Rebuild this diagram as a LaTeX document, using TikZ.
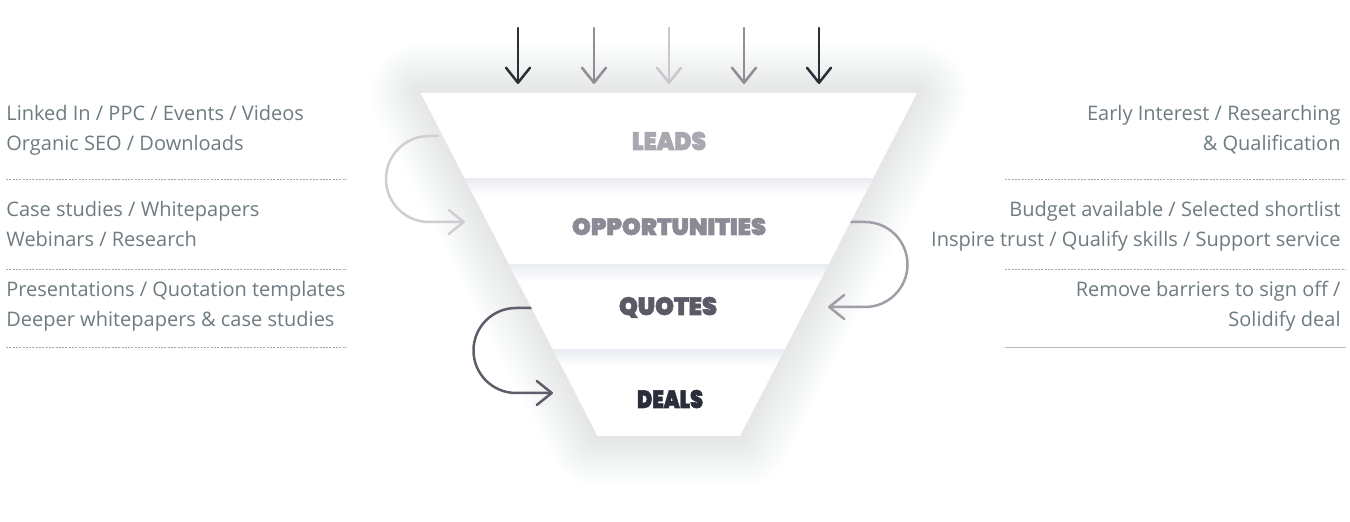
\documentclass[tikz,border=0pt]{standalone}
\usepackage{fontspec}
\setmainfont{Open Sans}
\newfontfamily\heavyfont{Poppins Black}[FakeBold=2.2]
\usetikzlibrary{arrows.meta,calc}
\definecolor{txt}{HTML}{6E7B81}
\definecolor{sep}{HTML}{A3A7AA}
\definecolor{shadowc}{HTML}{CACEE2}
\definecolor{band}{HTML}{EBEDF3}
\definecolor{cdark}{HTML}{2B2F3A}
\definecolor{cmid}{HTML}{8F8D97}
\definecolor{clight}{HTML}{C9C8CE}
\definecolor{cA}{HTML}{CFCED3}
\definecolor{cB}{HTML}{A09FA7}
\definecolor{cC}{HTML}{5E5D69}
\definecolor{lLeads}{HTML}{A9A7AF}
\definecolor{lOpp}{HTML}{8D8A95}
\definecolor{lQuotes}{HTML}{5B5966}
\definecolor{lDeals}{HTML}{2B2E3A}
\tikzset{
  sidetext/.style={inner sep=0pt, text=txt, font=\fontsize{10pt}{15pt}\selectfont},
  leftline/.style={sidetext, anchor=base west},
  rightline/.style={sidetext, anchor=base east},
  dotline/.style={sep, line width=0.5pt, dash pattern=on 1pt off 0.65pt},
  solidline/.style={sep!80, line width=0.6pt},
  flowarrow/.style={line width=1.25pt, line cap=round, -{Straight Barb[length=7.5pt,width=12pt,line cap=round,line join=round]}},
  stagelabel/.style={inner sep=0pt, anchor=base},
}
\begin{document}
\begin{tikzpicture}[x=0.5pt,y=-0.5pt]
\useasboundingbox[fill=white] (0,0) rectangle (1350,522);
% funnel corners
\coordinate (TL) at (420.7,93);
\coordinate (TR) at (917,93);
\coordinate (BR) at (740,436);
\coordinate (BL) at (597.5,436);
% soft shadow
\foreach \w in {4,8,...,100}
  \draw[shadowc, line width=\w*0.5pt, opacity=0.02, line join=round] (TL)--(TR)--(BR)--(BL)--cycle;
% curved flow arrows (behind the funnel)
\coordinate (aS) at (438,136); \coordinate (aE) at (465,222);
\coordinate (bS) at (845,222); \coordinate (bE) at (828,307);
\coordinate (cS) at (536,308); \coordinate (cE) at (553,393);
\draw[flowarrow, cA] (aS) -- (429,136) arc[start angle=270, end angle=90, radius=43] -- (aE);
\draw[flowarrow, cB] (bS) -- (865,222) arc[start angle=270, end angle=450, radius=42.5] -- (bE);
\draw[flowarrow, cC] (cS) -- (516,308) arc[start angle=270, end angle=90, radius=42.5] -- (cE);
% funnel body
\fill[white] (TL)--(TR)--(BR)--(BL)--cycle;
\begin{scope}
  \clip (TL)--(TR)--(BR)--(BL)--cycle;
  \foreach \y in {179,265,350}
    \shade[top color=band, bottom color=white] (400,\y) rectangle (940,\y+16);
\end{scope}
% stage labels
\node[stagelabel, text=lLeads]  (leads)  at (669,150) {\heavyfont\resizebox{37pt}{9.1pt}{LEADS}};
\node[stagelabel, text=lOpp]    (opp)    at (669,235) {\heavyfont\resizebox{97pt}{8.5pt}{OPPORTUNITIES}};
\node[stagelabel, text=lQuotes] (quotes) at (668,315) {\heavyfont\resizebox{49pt}{9pt}{QUOTES}};
\node[stagelabel, text=lDeals]  (deals)  at (670,408) {\heavyfont\resizebox{33pt}{9pt}{DEALS}};
% incoming arrows
\foreach \x/\c [count=\i] in {518/cdark,594/cmid,669/clight,744/cmid,819/cdark}{
  \coordinate (in\i) at (\x,28);
  \coordinate (to\i) at (\x,84);
  \draw[flowarrow, \c] (in\i) -- (to\i);
}
% left texts
\node[leftline] (l1) at (6,120.7) {Linked In / PPC / Events / Videos};
\node[leftline] (l2) at (6,150.7) {Organic SEO / Downloads};
\node[leftline] (l3) at (6,216.7) {Case studies / Whitepapers};
\node[leftline] (l4) at (6,246.7) {Webinars / Research};
\node[leftline] (l5) at (6,297) {Presentations / Quotation templates};
\node[leftline] (l6) at (6,327) {Deeper whitepapers \& case studies};
\draw[dotline] (6,179.3) -- (347,179.3);
\draw[dotline] (6,269.3) -- (347,269.3);
\draw[dotline] (6,347.7) -- (347,347.7);
% right texts
\node[rightline] (r1) at (1341,120.7) {Early Interest / Researching};
\node[rightline] (r2) at (1341,150.7) {\& Qualification};
\node[rightline] (r3) at (1341,216.7) {Budget available / Selected shortlist};
\node[rightline] (r4) at (1341,246.7) {Inspire trust / Qualify skills / Support service};
\node[rightline] (r5) at (1341,297) {Remove barriers to sign off /};
\node[rightline] (r6) at (1341,327) {Solidify deal};
\draw[dotline] (1005,179.3) -- (1346,179.3);
\draw[dotline] (1005,269.3) -- (1346,269.3);
\draw[solidline] (1005,347.7) -- (1346,347.7);
\end{tikzpicture}
\end{document}
